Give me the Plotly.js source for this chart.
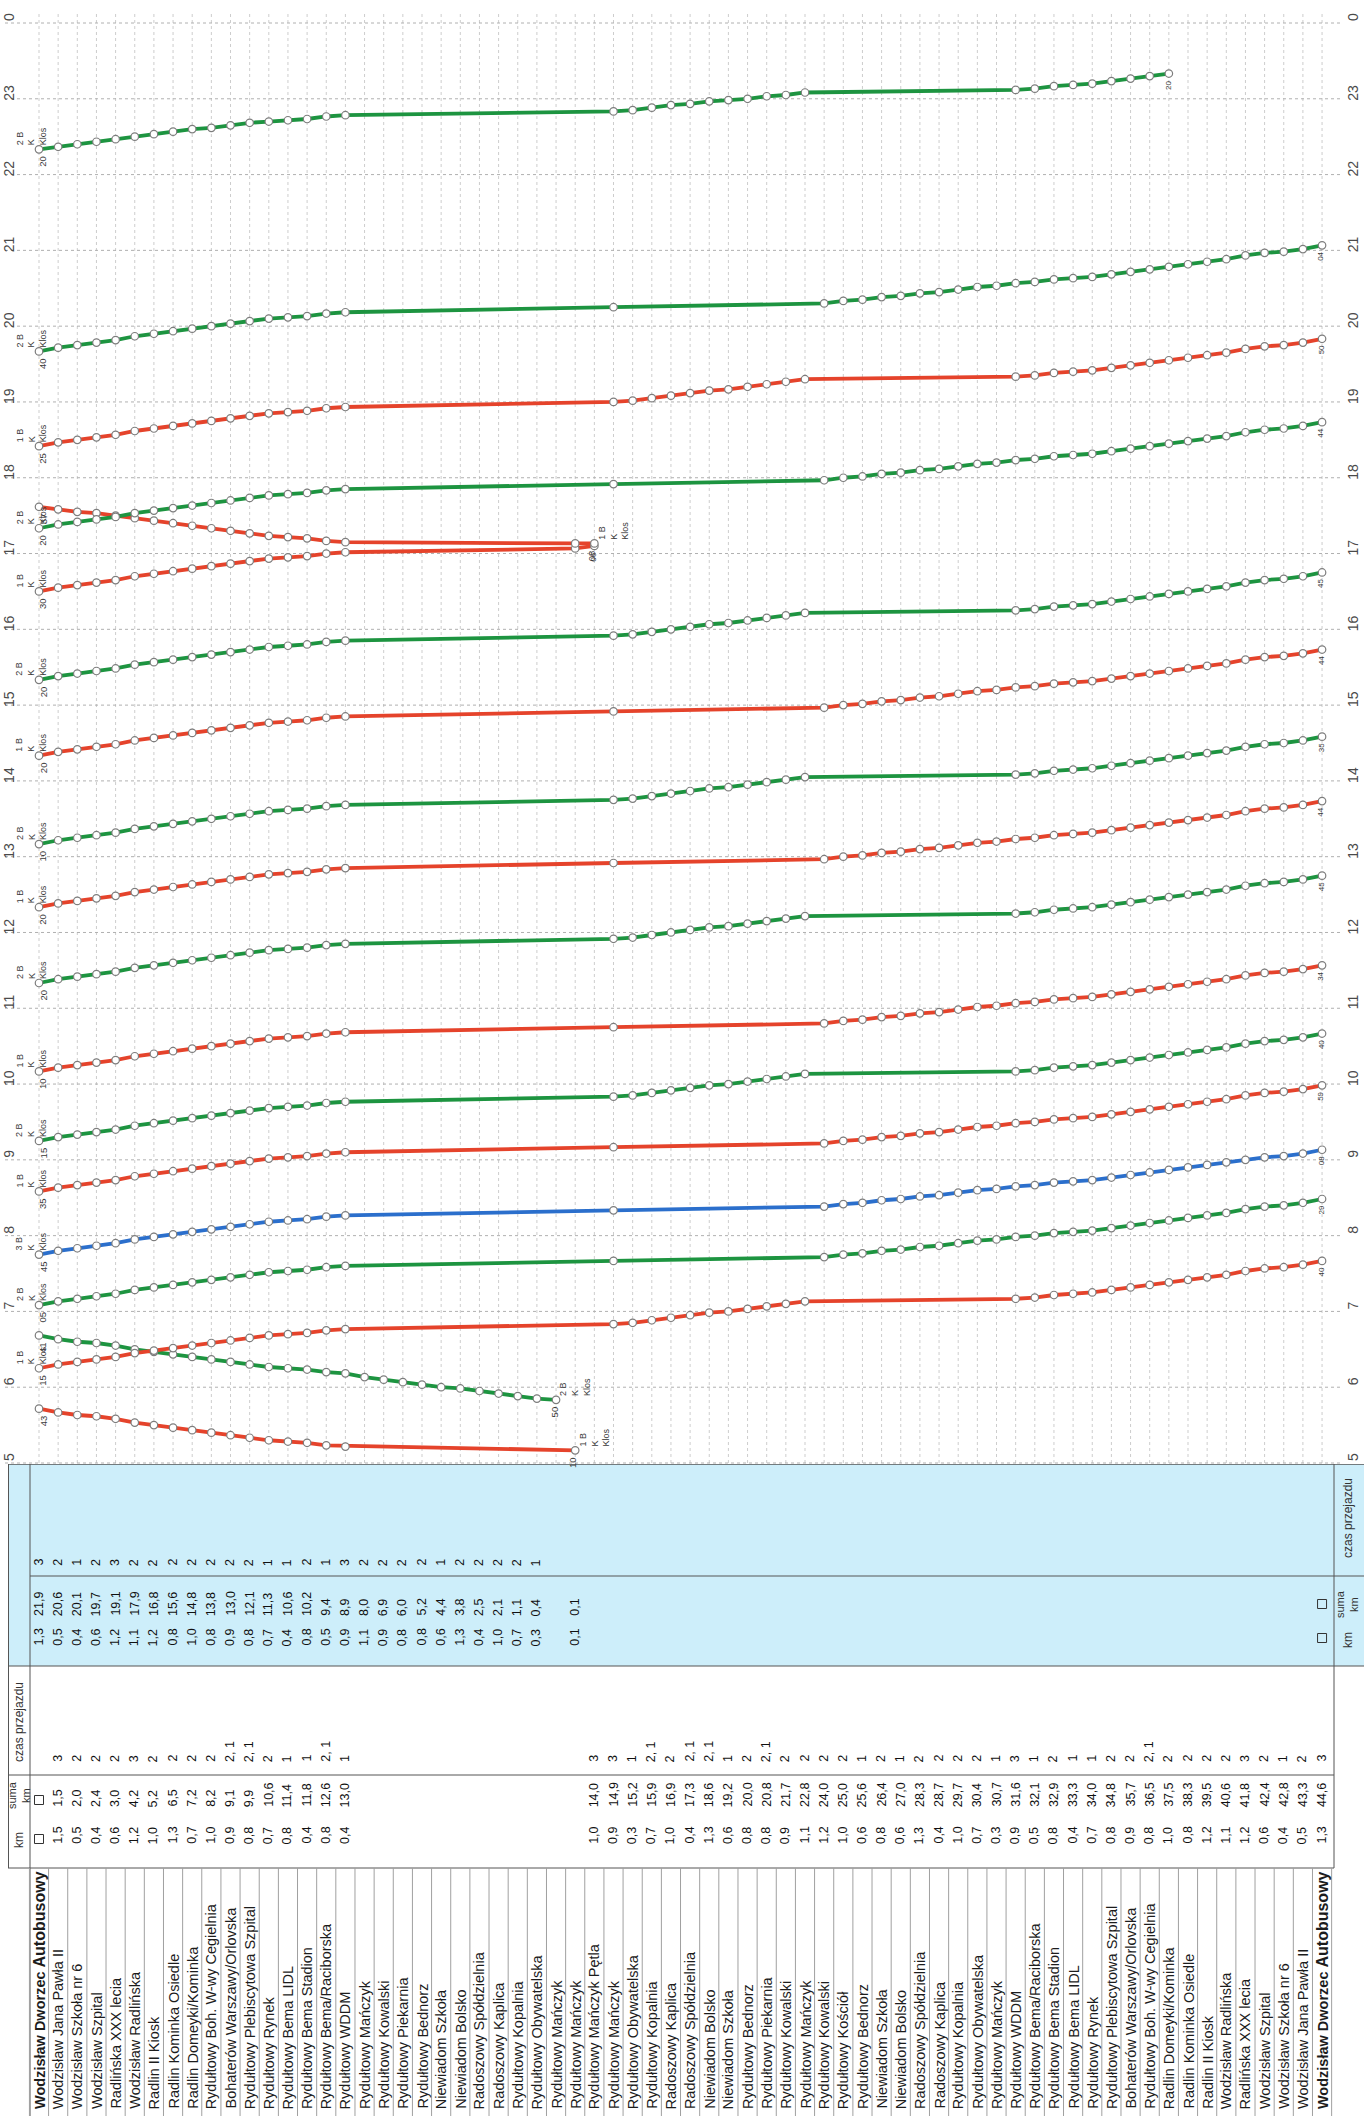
<!DOCTYPE html>
<html><head><meta charset="utf-8">
<script src="https://cdn.plot.ly/plotly-3.0.1.min.js"></script>
<style>html,body{margin:0;padding:0;background:#fff}#chart{width:1364px;height:2116px}</style>
</head><body><div id="chart"></div>
<script>
// ---------------- DATA ----------------
const stopNames = ["Wodzisław Dworzec Autobusowy","Wodzisław Jana Pawła II","Wodzisław Szkoła nr 6","Wodzisław Szpital","Radlińska XXX lecia","Wodzisław Radlińska","Radlin II Kiosk","Radlin Kominka Osiedle","Radlin Domeyki/Kominka","Rydułtowy Boh. W-wy Cegielnia","Bohaterów Warszawy/Orlovska","Rydułtowy Plebiscytowa Szpital","Rydułtowy Rynek","Rydułtowy Bema LIDL","Rydułtowy Bema Stadion","Rydułtowy Bema/Raciborska","Rydułtowy WDDM","Rydułtowy Mańczyk","Rydułtowy Kowalski","Rydułtowy Piekarnia","Rydułtowy Bednorz","Niewiadom Szkoła","Niewiadom Bolsko","Radoszowy Spółdzielnia","Radoszowy Kaplica","Rydułtowy Kopalnia","Rydułtowy Obywatelska","Rydułtowy Mańczyk","Rydułtowy Mańczyk","Rydułtowy Mańczyk Pętla","Rydułtowy Mańczyk","Rydułtowy Obywatelska","Rydułtowy Kopalnia","Radoszowy Kaplica","Radoszowy Spółdzielnia","Niewiadom Bolsko","Niewiadom Szkoła","Rydułtowy Bednorz","Rydułtowy Piekarnia","Rydułtowy Kowalski","Rydułtowy Mańczyk","Rydułtowy Kowalski","Rydułtowy Kościół","Rydułtowy Bednorz","Niewiadom Szkoła","Niewiadom Bolsko","Radoszowy Spółdzielnia","Radoszowy Kaplica","Rydułtowy Kopalnia","Rydułtowy Obywatelska","Rydułtowy Mańczyk","Rydułtowy WDDM","Rydułtowy Bema/Raciborska","Rydułtowy Bema Stadion","Rydułtowy Bema LIDL","Rydułtowy Rynek","Rydułtowy Plebiscytowa Szpital","Bohaterów Warszawy/Orlovska","Rydułtowy Boh. W-wy Cegielnia","Radlin Domeyki/Kominka","Radlin Kominka Osiedle","Radlin II Kiosk","Wodzisław Radlińska","Radlińska XXX lecia","Wodzisław Szpital","Wodzisław Szkoła nr 6","Wodzisław Jana Pawła II","Wodzisław Dworzec Autobusowy"];

// upper (blue) table: return direction, rows 0..28
const upKm   = ["1,3","0,5","0,4","0,6","1,2","1,1","1,2","0,8","1,0","0,8","0,9","0,8","0,7","0,4","0,8","0,5","0,9","1,1","0,9","0,8","0,8","0,6","1,3","0,4","1,0","0,7","0,3","","0,1"];
const upSum  = ["21,9","20,6","20,1","19,7","19,1","17,9","16,8","15,6","14,8","13,8","13,0","12,1","11,3","10,6","10,2","9,4","8,9","8,0","6,9","6,0","5,2","4,4","3,8","2,5","2,1","1,1","0,4","","0,1"];
const upCzas = ["3","2","1","2","3","2","2","2","2","2","2","2","1","1","2","1","3","2","2","2","2","1","2","2","2","2","1","",""];

// lower (white) table: outbound direction, rows 0..67
const lowKm = ["","1,5","0,5","0,4","0,6","1,2","1,0","1,3","0,7","1,0","0,9","0,8","0,7","0,8","0,4","0,8","0,4","","","","","","","","","","","","","1,0","0,9","0,3","0,7","1,0","0,4","1,3","0,6","0,8","0,8","0,9","1,1","1,2","1,0","0,6","0,8","0,6","1,3","0,4","1,0","0,7","0,3","0,9","0,5","0,8","0,4","0,7","0,8","0,9","0,8","1,0","0,8","1,2","1,1","1,2","0,6","0,4","0,5","1,3"];
const lowSum = ["","1,5","2,0","2,4","3,0","4,2","5,2","6,5","7,2","8,2","9,1","9,9","10,6","11,4","11,8","12,6","13,0","","","","","","","","","","","","","14,0","14,9","15,2","15,9","16,9","17,3","18,6","19,2","20,0","20,8","21,7","22,8","24,0","25,0","25,6","26,4","27,0","28,3","28,7","29,7","30,4","30,7","31,6","32,1","32,9","33,3","34,0","34,8","35,7","36,5","37,5","38,3","39,5","40,6","41,8","42,4","42,8","43,3","44,6"];
const lowCzas = ["","3","2","2","2","3","2","2","2","2","2, 1","2, 1","2","1","1","2, 1","1","","","","","","","","","","","","","3","3","1","2, 1","2","2, 1","2, 1","1","2","2, 1","2","2","2","2","1","2","1","2","2","2","2","1","3","1","2","1","1","2","2","2, 1","2","2","2","2","3","2","1","2","3"];

// hour axis
const hourVals = [5,6,7,8,9,10,11,12,13,14,15,16,17,18,19,20,21,22,23,24];
const hourText = ["5","6","7","8","9","10","11","12","13","14","15","16","17","18","19","20","21","22","23","0"];

// stop sequences (row indices of the table)
const routeA   = [0,1,2,3,4,5,6,7,8,9,10,11,12,13,14,15,16,30,31,32,33,34,35,36,37,38,39,40,51,52,53,54,55,56,57,58,59,60,61,62,63,64,65,66,67];
const routeB   = [0,1,2,3,4,5,6,7,8,9,10,11,12,13,14,15,16,30,41,42,43,44,45,46,47,48,49,50,51,52,53,54,55,56,57,58,59,60,61,62,63,64,65,66,67];
const routeEve = [0,1,2,3,4,5,6,7,8,9,10,11,12,13,14,15,16,30,31,32,33,34,35,36,37,38,39,40,51,52,53,54,55,56,57,58,59];
const routeToLoop = [0,1,2,3,4,5,6,7,8,9,10,11,12,13,14,15,16,28,29];
const backR1 = [28,16,15,14,13,12,11,10,9,8,7,6,5,4,3,2,1,0];
const backR2 = [27,26,25,24,23,22,21,20,19,18,17,16,15,14,13,12,11,10,9,8,7,6,5,4,3,2,1,0];
const backR3 = [29,28,16,15,14,13,12,11,10,9,8,7,6,5,4,3,2,1,0];

// passing times, minutes after midnight
const t0510 = [310,313,314,316,317,318,320,322,324,326,328,330,332,335,337,338,340,343];
const t0550 = [350,351,353,355,357,359,360,362,364,366,368,371,372,374,375,376,378,380,382,384,386,388,390,393,395,396,398,401];
const t0615 = [375,378,380,382,384,387,389,391,393,395,397,399,401,402,403,405,406,410,411,413,415,417,419,420,422,424,426,428,430,431,433,434,435,437,439,441,443,445,447,449,452,454,455,457,460];
const t0705 = [425,428,430,432,434,437,439,441,443,445,447,449,451,452,453,455,456,460,463,465,466,468,469,471,472,474,476,477,479,480,482,483,484,486,488,490,492,494,496,498,501,503,504,506,509];
const t0745 = [465,468,470,472,474,477,479,481,483,485,487,489,491,492,493,495,496,500,503,505,506,508,509,511,512,514,516,517,519,520,522,523,524,526,528,530,532,534,536,538,540,542,543,545,548];
const t0835 = [515,518,520,522,524,527,529,531,533,535,537,539,541,542,543,545,546,550,553,555,556,558,559,561,562,564,566,567,569,570,572,573,574,576,578,580,582,584,586,588,591,593,594,596,599];
const t0915 = [555,558,560,562,564,567,569,571,573,575,577,579,581,582,583,585,586,590,591,593,595,597,599,600,602,604,606,608,610,611,613,614,615,617,619,621,623,625,627,629,632,634,635,637,640];
const t1010 = [610,613,615,617,619,622,624,626,628,630,632,634,636,637,638,640,641,645,648,650,651,653,654,656,657,659,661,662,664,665,667,668,669,671,673,675,677,679,681,683,686,688,689,691,694];
const t1120 = [680,683,685,687,689,692,694,696,698,700,702,704,706,707,708,710,711,715,716,718,720,722,724,725,727,729,731,733,735,736,738,739,740,742,744,746,748,750,752,754,757,759,760,762,765];
const t1220 = [740,743,745,747,749,752,754,756,758,760,762,764,766,767,768,770,771,775,778,780,781,783,784,786,787,789,791,792,794,795,797,798,799,801,803,805,807,809,811,813,816,818,819,821,824];
const t1310 = [790,793,795,797,799,802,804,806,808,810,812,814,816,817,818,820,821,825,826,828,830,832,834,835,837,839,841,843,845,846,848,849,850,852,854,856,858,860,862,864,867,869,870,872,875];
const t1420 = [860,863,865,867,869,872,874,876,878,880,882,884,886,887,888,890,891,895,898,900,901,903,904,906,907,909,911,912,914,915,917,918,919,921,923,925,927,929,931,933,936,938,939,941,944];
const t1520 = [920,923,925,927,929,932,934,936,938,940,942,944,946,947,948,950,951,955,956,958,960,962,964,965,967,969,971,973,975,976,978,979,980,982,984,986,988,990,992,994,997,999,1000,1002,1005];
const t1630 = [990,993,995,997,999,1002,1004,1006,1008,1010,1012,1014,1016,1017,1018,1020,1021,1024,1026];
const t1708 = [1028,1028,1029,1030,1032,1033,1034,1036,1038,1040,1042,1044,1046,1048,1050,1052,1053,1055,1057];
const t1720 = [1040,1043,1045,1047,1049,1052,1054,1056,1058,1060,1062,1064,1066,1067,1068,1070,1071,1075,1078,1080,1081,1083,1084,1086,1087,1089,1091,1092,1094,1095,1097,1098,1099,1101,1103,1105,1107,1109,1111,1113,1116,1118,1119,1121,1124];
const t1825 = [1105,1108,1110,1112,1114,1117,1119,1121,1123,1125,1127,1129,1131,1132,1133,1135,1136,1140,1141,1143,1145,1147,1149,1150,1152,1154,1156,1158,1160,1161,1163,1164,1165,1167,1169,1171,1173,1175,1177,1179,1182,1184,1185,1187,1190];
const t1940 = [1180,1183,1185,1187,1189,1192,1194,1196,1198,1200,1202,1204,1206,1207,1208,1210,1211,1215,1218,1220,1221,1223,1224,1226,1227,1229,1231,1232,1234,1235,1237,1238,1239,1241,1243,1245,1247,1249,1251,1253,1256,1258,1259,1261,1264];
const t2220 = [1340,1342,1344,1346,1348,1350,1352,1354,1356,1357,1359,1361,1362,1363,1364,1366,1367,1370,1371,1373,1375,1376,1378,1379,1380,1382,1383,1385,1387,1388,1390,1391,1392,1394,1396,1398,1400];

// brigade (1 B, 2 B, 3 B) and driver of each run
const trips = [
  {stops: backR1, t: t0510, brig: 1, dir: "back"},
  {stops: backR2, t: t0550, brig: 2, dir: "back"},
  {stops: routeA, t: t0615, brig: 1, dir: "out"},
  {stops: routeB, t: t0705, brig: 2, dir: "out"},
  {stops: routeB, t: t0745, brig: 3, dir: "out"},
  {stops: routeB, t: t0835, brig: 1, dir: "out"},
  {stops: routeA, t: t0915, brig: 2, dir: "out"},
  {stops: routeB, t: t1010, brig: 1, dir: "out"},
  {stops: routeA, t: t1120, brig: 2, dir: "out"},
  {stops: routeB, t: t1220, brig: 1, dir: "out"},
  {stops: routeA, t: t1310, brig: 2, dir: "out"},
  {stops: routeB, t: t1420, brig: 1, dir: "out"},
  {stops: routeA, t: t1520, brig: 2, dir: "out"},
  {stops: routeToLoop, t: t1630, brig: 1, dir: "out"},
  {stops: backR3, t: t1708, brig: 1, dir: "back"},
  {stops: routeB, t: t1720, brig: 2, dir: "out"},
  {stops: routeA, t: t1825, brig: 1, dir: "out"},
  {stops: routeB, t: t1940, brig: 2, dir: "out"},
  {stops: routeEve, t: t2220, brig: 2, dir: "out"}
];
const driver = "Klos";

// ---------------- DRAWING ----------------
const W = 1364, H = 2116;
const SP = 19.15, X0 = 39;           // px per stop row, px of row 0
const TBL = 1464;                    // px where table begins
const xr = [-X0/SP, (W - X0)/SP];
const brigColor = {1: "#e5432b", 2: "#1d9440", 3: "#2b6fcc"};
const FONT = "Liberation Sans, Arial, sans-serif";
const px = v => v / W;               // px -> paper x
const mm = v => String(v % 60).padStart(2, "0");

const traces = trips.map(tr => ({
  type: "scatter", mode: "lines+markers", xaxis: "x", yaxis: "y",
  x: tr.stops, y: tr.t.map(v => v / 60),
  line: {color: brigColor[tr.brig], width: 3.8},
  marker: {symbol: "circle", size: 7.5, color: "#ffffff", line: {color: "#7d7d7d", width: 1.2}},
  hoverinfo: "skip", showlegend: false
}));

const shapes = [];
const annotations = [];

// graph grid
for (let i = 0; i < stopNames.length; i++) {
  shapes.push({type: "line", xref: "x", yref: "y", x0: i, x1: i, y0: 5, y1: 24.15,
    line: {color: "#cdcdcd", width: 1, dash: "dot"}, layer: "below"});
}
hourVals.forEach((h, k) => {
  shapes.push({type: "line", xref: "x", yref: "y", x0: (5 - X0)/SP, x1: (1342 - X0)/SP, y0: h, y1: h,
    line: {color: "#b0b0b0", width: 1, dash: "dot"}, layer: "below"});
  const base = {xref: "paper", yref: "y", y: h, yshift: 6, showarrow: false, textangle: -90,
    font: {family: FONT, size: 14, color: "#4a4a4a"}, xanchor: "center", yanchor: "middle", text: hourText[k]};
  annotations.push(Object.assign({x: px(9)}, base));
  annotations.push(Object.assign({x: px(1353)}, base));
});

// table background and rules
shapes.push({type: "rect", xref: "paper", yref: "y2", x0: px(8), x1: 1, y0: TBL, y1: 1666,
  fillcolor: "#cdeefa", line: {width: 0}, layer: "below"});
const hline = (y, a, b, c, w) => shapes.push({type: "line", xref: "paper", yref: "y2", x0: px(a), x1: px(b), y0: y, y1: y, line: {color: c || "#555", width: w || 1}});
const vline = (x, a, b, c) => shapes.push({type: "line", xref: "paper", yref: "y2", x0: px(x), x1: px(x), y0: a, y1: b, line: {color: c || "#555", width: 1}});
hline(TBL, 8, W, "#555", 1.5);
hline(1576, 30, W);
hline(1666, 8, W);
hline(1775, 8, 1334);
hline(1868, 8, 1334);
vline(8.5, TBL, 1868);
vline(30, TBL, H);
vline(1334, TBL, 1868);
for (let i = 0; i <= stopNames.length; i++) {
  const xp = X0 + (i - 0.5) * SP;
  vline(xp, 1868, H, "#a0a0a0");
}
// empty boxes
const box = (xc, yc) => shapes.push({type: "rect", xref: "paper", yref: "y2", x0: px(xc - 4.5), x1: px(xc + 4.5), y0: yc - 4.5, y1: yc + 4.5, line: {color: "#333", width: 1}});
box(X0, 1800); box(X0, 1839);
box(X0 + 67 * SP, 1604); box(X0 + 67 * SP, 1638);

const rotT = (o, size, color) => Object.assign({showarrow: false, textangle: -90,
  font: {family: FONT, size: size, color: color || "#1c1c1c"}}, o);

// stop names
stopNames.forEach((n, i) => {
  let txt = n;
  if (n === "Wodzisław Dworzec Autobusowy") txt = "<b>Wodzisław Dworzec <span style='font-size:16px'>Autobusowy</span></b>";
  annotations.push(rotT({xref: "x2", yref: "y2", x: i, y: 2111, text: txt, xanchor: "center", yanchor: "bottom"}, 14.5));
});
// table values
const putCol = (arr, y) => arr.forEach((v, i) => {
  if (v) annotations.push(rotT({xref: "x2", yref: "y2", x: i, y: y, text: v, xanchor: "center", yanchor: "bottom"}, 12.5, "#111"));
});
putCol(upCzas, 1568);
putCol(upSum, 1618);
putCol(upKm, 1648);
putCol(lowCzas, 1764);
putCol(lowSum, 1809);
putCol(lowKm, 1846);
// headers
const hdr = (x, y, text, sz) => annotations.push(rotT({xref: "paper", yref: "y2", x: px(x), y: y, text: text, xanchor: "center", yanchor: "middle"}, sz || 12, "#333"));
hdr(19, 1722, "czas przejazdu");
hdr(19, 1795, "suma<br>km", 11);
hdr(19, 1840, "km");
hdr(1348, 1518, "czas przejazdu");
hdr(1347, 1604, "suma<br>km", 11);
hdr(1348, 1640, "km");

// run labels
trips.forEach(tr => {
  const n = tr.stops.length;
  const s0 = tr.stops[0], sN = tr.stops[n - 1];
  const y0 = tr.t[0] / 60, yN = tr.t[n - 1] / 60;
  const block = tr.brig + " B<br>K<br>" + driver;
  const lab = (o, size) => annotations.push(rotT(Object.assign({xref: "x", yref: "y"}, o), size, "#3a3a3a"));
  if (tr.dir === "out") {
    lab({x: s0, y: y0, text: mm(tr.t[0]), xanchor: "center", yanchor: "top", xshift: 4, yshift: -5}, 9.5);
    lab({x: s0, y: y0, text: block, align: "left", xanchor: "center", yanchor: "bottom", xshift: -8, yshift: 2}, 9);
    lab({x: sN, y: yN, text: mm(tr.t[n - 1]), xanchor: "center", yanchor: "top", xshift: -1, yshift: -5}, 8);
  } else {
    lab({x: s0, y: y0, text: mm(tr.t[0]), xanchor: "center", yanchor: "top", xshift: -2, yshift: -5}, 9.5);
    lab({x: s0, y: y0, text: block, align: "left", xanchor: "center", yanchor: "bottom", xshift: 19, yshift: 2}, 9);
    lab({x: sN, y: yN, text: mm(tr.t[n - 1]), xanchor: "center", yanchor: "top", xshift: 4, yshift: -5}, 9.5);
  }
});

const layout = {
  width: W, height: H, margin: {l: 0, r: 0, t: 0, b: 0},
  paper_bgcolor: "#ffffff", plot_bgcolor: "rgba(0,0,0,0)", showlegend: false,
  xaxis: {range: xr, visible: false, anchor: "y", fixedrange: true},
  yaxis: {range: [4.9868, 24.3035], domain: [652/2116, 1], visible: false, fixedrange: true},
  xaxis2: {range: xr, visible: false, anchor: "y2", fixedrange: true},
  yaxis2: {range: [2116, 1464], domain: [0, 652/2116], visible: false, fixedrange: true},
  shapes: shapes, annotations: annotations
};
Plotly.newPlot("chart", traces, layout, {displayModeBar: false, staticPlot: true});
</script></body></html>
